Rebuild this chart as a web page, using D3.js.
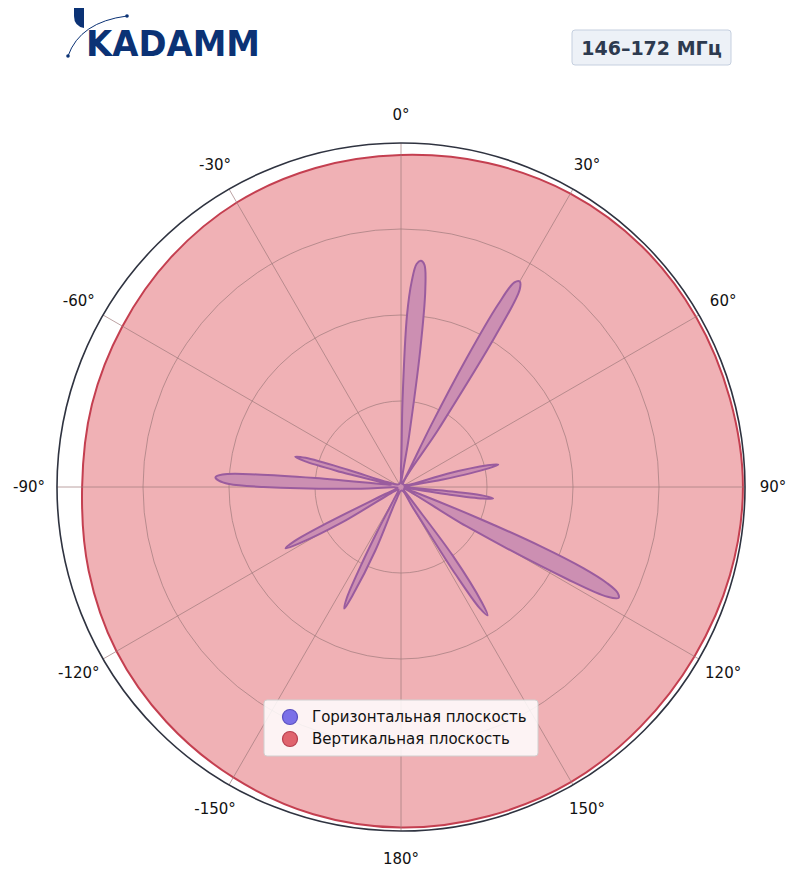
<!DOCTYPE html>
<html>
<head>
<meta charset="utf-8">
<script src="https://cdn.jsdelivr.net/npm/d3@7"></script>
<style>
  body { margin: 0; background: #fff; font-family: 'DejaVu Sans', sans-serif; }
</style>
</head>
<body>
<div id="chart"></div>
<script>
// horizontal plane: [angle deg clockwise from 0, relative level]
const horizAngles = [0, 1, 2, 3, 4, 5, 6, 7, 8, 9, 14,
  25, 26, 27, 28, 29, 30, 31, 32, 33, 40,
  72, 74, 76, 77, 78, 80, 85,
  93, 95, 96, 97, 98, 99, 101, 108,
  110, 112, 113, 114, 115, 116, 117, 118, 119, 121, 128,
  141, 143, 145, 146, 147, 148, 150, 170,
  200, 202, 204, 205, 206, 207, 208, 210, 225,
  237, 239, 241, 242, 243, 244, 246, 258,
  267, 268, 270, 271, 272, 273, 274, 275, 276, 280,
  282, 284, 285, 286, 287, 288, 290, 330];
const horizValues = [0.06, 0.25, 0.5, 0.6, 0.65, 0.66, 0.65, 0.58, 0.4, 0.15, 0.01,
  0.03, 0.2, 0.42, 0.6, 0.68, 0.69, 0.67, 0.52, 0.2, 0.01,
  0.02, 0.14, 0.26, 0.29, 0.26, 0.12, 0.01,
  0.02, 0.15, 0.24, 0.27, 0.24, 0.13, 0.02, 0.01,
  0.04, 0.25, 0.44, 0.58, 0.66, 0.7, 0.71, 0.68, 0.55, 0.22, 0.01,
  0.04, 0.25, 0.41, 0.45, 0.42, 0.3, 0.07, 0.01,
  0.04, 0.2, 0.34, 0.39, 0.36, 0.26, 0.15, 0.04, 0.01,
  0.02, 0.2, 0.34, 0.38, 0.35, 0.24, 0.05, 0.01,
  0.02, 0.15, 0.4, 0.5, 0.53, 0.54, 0.52, 0.42, 0.25, 0.04,
  0.03, 0.18, 0.29, 0.32, 0.29, 0.16, 0.04, 0.01];

// vertical plane
const vertAngles = [0, 15, 30, 45, 60, 75, 90, 105, 120, 135, 150, 165,
  180, 195, 210, 225, 240, 255, 270, 285, 300, 315, 330, 345];
const vertValues = [0.965, 0.975, 0.985, 0.99, 0.99, 0.99, 0.994, 0.99, 0.985, 0.985, 0.99, 0.99,
  0.99, 0.985, 0.975, 0.965, 0.955, 0.94, 0.927, 0.93, 0.935, 0.945, 0.955, 0.96];

const ringLevels = [0.25, 0.5, 0.75];
const spokeAngles = [0, 30, 60, 90, 120, 150, 180, 210, 240, 270, 300, 330];
const spokeLabels = ['0°', '30°', '60°', '90°', '120°', '150°', '180°', '-150°', '-120°', '-90°', '-60°', '-30°'];
const legendLabels = ['Горизонтальная плоскость', 'Вертикальная плоскость'];
const title = '146–172 МГц';

const w = 800, h = 878;
const cx = 401, cy = 487;
const svg = d3.select('#chart').append('svg').attr('width', w).attr('height', h);

const r = d3.scaleLinear().domain([0, 1]).range([0, 344]);
const toRad = d => d * Math.PI / 180;
const g = svg.append('g').attr('transform', 'translate(' + cx + ',' + cy + ')');

const vertLine = d3.lineRadial().angle(d => toRad(d[0])).radius(d => r(d[1])).curve(d3.curveCatmullRomClosed);
const horizLine = d3.lineRadial().angle(d => toRad(d[0])).radius(d => r(d[1])).curve(d3.curveCatmullRomClosed.alpha(0.5));

// vertical pattern (behind)
g.append('path')
 .datum(d3.zip(vertAngles, vertValues))
 .attr('d', vertLine)
 .attr('fill', '#f0b1b5')
 .attr('stroke', '#c43f50')
 .attr('stroke-width', 2);

// grid
g.selectAll('.ring').data(ringLevels).enter().append('circle')
 .attr('r', d => r(d)).attr('fill', 'none')
 .attr('stroke', '#a07a7c').attr('stroke-opacity', 0.7).attr('stroke-width', 1);
g.selectAll('.spoke').data(spokeAngles).enter().append('line')
 .attr('x1', 0).attr('y1', 0)
 .attr('x2', d => r(1) * Math.sin(toRad(d)))
 .attr('y2', d => -r(1) * Math.cos(toRad(d)))
 .attr('stroke', '#a07a7c').attr('stroke-opacity', 0.7).attr('stroke-width', 1);

// horizontal pattern
g.append('path')
 .datum(d3.zip(horizAngles, horizValues))
 .attr('d', horizLine)
 .attr('fill', '#cc8fb2')
 .attr('stroke', '#9a5c9e')
 .attr('stroke-width', 2)
 .attr('stroke-linejoin', 'round');

// outer circle
g.append('circle').attr('r', r(1)).attr('fill', 'none')
 .attr('stroke', '#2f3340').attr('stroke-width', 1.6);

// angle labels
g.selectAll('.lab').data(spokeAngles).enter().append('text')
 .attr('x', d => 372 * Math.sin(toRad(d)))
 .attr('y', d => -372 * Math.cos(toRad(d)))
 .attr('text-anchor', 'middle').attr('dominant-baseline', 'central')
 .attr('font-size', 15).attr('fill', '#111')
 .text((d, i) => spokeLabels[i]);

// legend
const lg = svg.append('g').attr('transform', 'translate(264,700)');
lg.append('rect').attr('width', 274).attr('height', 56).attr('rx', 3)
  .attr('fill', '#fff').attr('fill-opacity', 0.85).attr('stroke', '#d0d0d0');
const legendColors = [['#7b70e8', '#5a50c0'], ['#e0646e', '#b84050']];
legendLabels.forEach((t, i) => {
  lg.append('circle').attr('cx', 26).attr('cy', 17 + i * 22).attr('r', 7.5)
    .attr('fill', legendColors[i][0]).attr('stroke', legendColors[i][1]).attr('stroke-width', 1.2);
  lg.append('text').attr('x', 48).attr('y', 17 + i * 22).attr('dominant-baseline', 'central')
    .attr('font-size', 15).attr('fill', '#111').text(t);
});

// title box
const tb = svg.append('g').attr('transform', 'translate(572,30)');
tb.append('rect').attr('width', 159).attr('height', 35).attr('rx', 3)
  .attr('fill', '#edf1f7').attr('stroke', '#c5cfdf');
tb.append('text').attr('x', 79.5).attr('y', 18).attr('text-anchor', 'middle')
  .attr('dominant-baseline', 'central').attr('font-size', 19).attr('font-weight', 'bold')
  .attr('fill', '#2d3a4f').text(title);

// logo
const logo = svg.append('g');
logo.append('path').attr('d', 'M74,8 L84,8 L84,28 Q74,26 74,16 Z').attr('fill', '#0b3275');
logo.append('path').attr('d', 'M68,56 Q80,22 127,16').attr('fill', 'none').attr('stroke', '#0b3275').attr('stroke-width', 1);
logo.append('circle').attr('cx', 127).attr('cy', 16).attr('r', 1.8).attr('fill', '#0b3275');
logo.append('circle').attr('cx', 68).attr('cy', 56).attr('r', 1.8).attr('fill', '#0b3275');
logo.append('text').attr('x', 86).attr('y', 56).attr('font-size', 36).attr('font-weight', 'bold')
  .attr('font-family', 'DejaVu Sans, sans-serif').attr('fill', '#0b3275')
  .attr('textLength', 174).attr('lengthAdjust', 'spacingAndGlyphs').text('KADAMM');
</script>
</body>
</html>
